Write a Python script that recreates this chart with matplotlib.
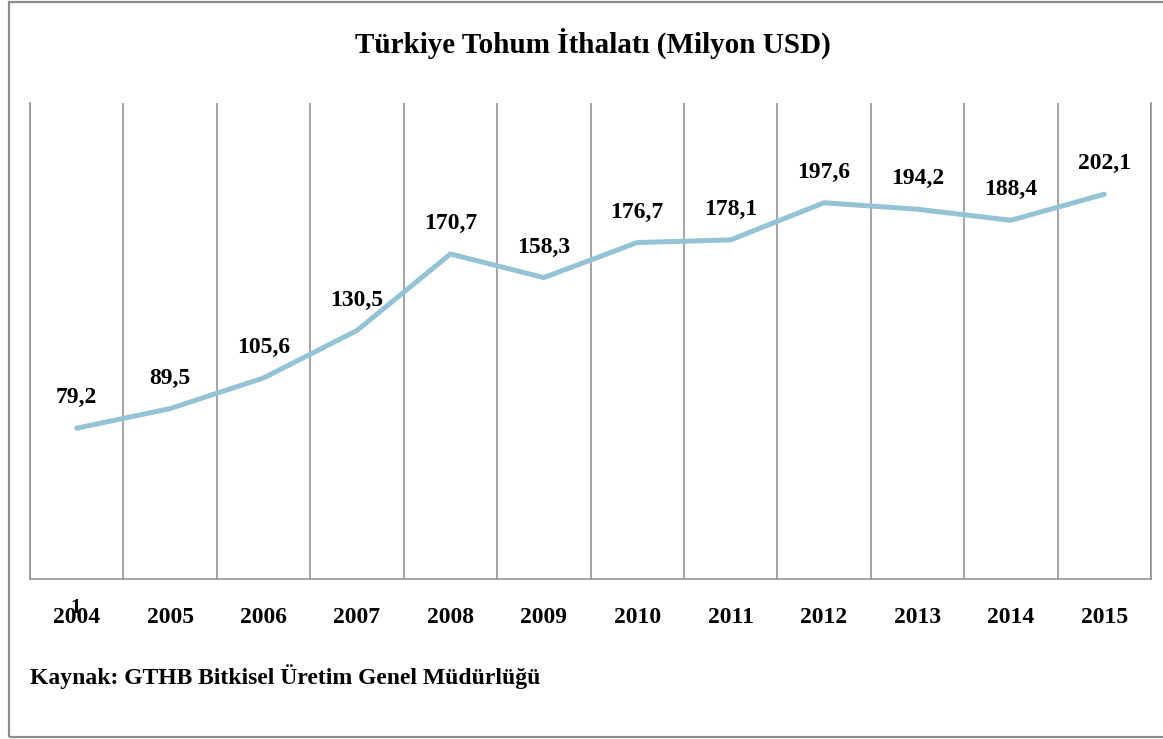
import numpy as np
import matplotlib.pyplot as plt
from matplotlib.patches import Rectangle

years = ['2004', '2005', '2006', '2007', '2008', '2009',
         '2010', '2011', '2012', '2013', '2014', '2015']
values = [79.2, 89.5, 105.6, 130.5, 170.7, 158.3,
          176.7, 178.1, 197.6, 194.2, 188.4, 202.1]

plt.rcParams['font.family'] = ['Liberation Serif', 'DejaVu Serif']
plt.rcParams['font.weight'] = 'bold'

W, H = 1163, 739
fig = plt.figure(figsize=(W / 100, H / 100), dpi=100)
ax = fig.add_axes([30 / W, 1 - 579 / H, (1151 - 30) / W, (579 - 103) / H])

x = np.arange(len(years))
ax.plot(x, values, color='#93C3D5', lw=3.6, solid_capstyle='round', zorder=3)

for xi, v in zip(x, values):
    ax.annotate(f'{v:.1f}'.replace('.', ','), (xi, v), xytext=(0, 22),
                textcoords='offset points', ha='center', va='center',
                fontsize=17, fontweight='bold')

ax.set_xlim(-0.5, len(years) - 0.5)
ax.set_ylim(0, 250)
ax.set_yticks([])
ax.set_xticks(x)
ax.set_xticklabels(years, fontsize=17, fontweight='bold')
ax.tick_params(axis='x', length=0, pad=20)

# vertical lines between categories
for b in np.arange(-0.5, len(years), 1.0):
    ax.axvline(b, color='#8c8c8c', lw=1.1, zorder=1)

ax.spines['top'].set_visible(False)
for s in ['left', 'right', 'bottom']:
    ax.spines[s].set_color('#8c8c8c')
    ax.spines[s].set_linewidth(1.1)

fig.text(593 / W, 1 - 43 / H, 'Türkiye Tohum İthalatı (Milyon USD)',
         ha='center', va='center', fontsize=21, fontweight='bold')
fig.text(30 / W, 1 - 677 / H, 'Kaynak: GTHB Bitkisel Üretim Genel Müdürlüğü',
         ha='left', va='center', fontsize=17, fontweight='bold')
fig.text(76 / W, 1 - 608 / H, '1', ha='center', va='center',
         fontsize=15, fontweight='bold')

fig.patches.append(Rectangle((9 / W, 1 - 737 / H), 1.2, (737 - 2) / H,
                             transform=fig.transFigure, fill=False,
                             edgecolor='#8c8c8c', lw=1.6))

fig.savefig('out.png', dpi=100, facecolor='white')
